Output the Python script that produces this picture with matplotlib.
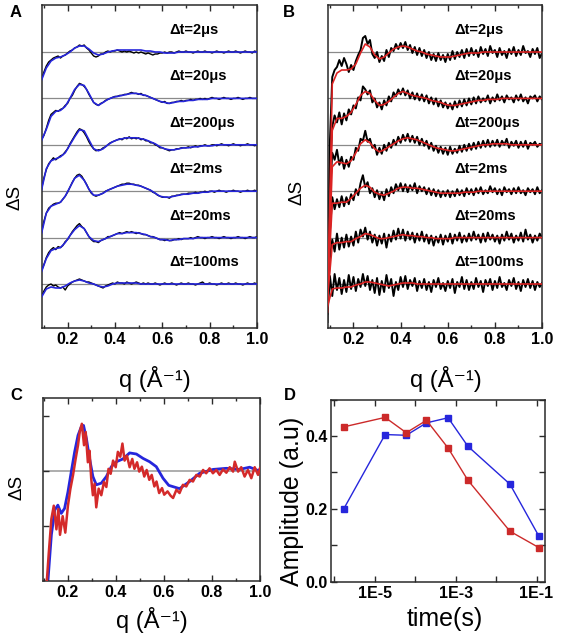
import numpy as np
import matplotlib
matplotlib.use("Agg")
import matplotlib.pyplot as plt
from matplotlib.ticker import MultipleLocator, LogLocator, NullFormatter

plt.rcParams['font.family'] = ['Liberation Sans', 'DejaVu Sans']

# ---------------- data (arbitrary dS units) ----------------
delays = ["Δt=2μs", "Δt=20μs", "Δt=200μs", "Δt=2ms", "Δt=20ms", "Δt=100ms"]

q_data = np.round(np.arange(0.09, 1.0001, 0.01), 2)   # measured curves
q_fit = np.round(np.arange(0.09, 1.0101, 0.02), 2)    # fitted curves

# panel A: measured (black) and fit (blue)
a_data_2us = [-27,
    -20, -14, -10, -8, -6, -5, -4, -6, -4, -3,
    -1, 1, 2, 4, 5, 7, 6, 7, 4, 2,
    -1, -4, -5, -4, -2, -2, 0, 1, 0, 1,
    1, 2, 1, 0, 1, 0, 1, 0, -1, 0,
    -1, 0, -1, -2, -1, -2, -3, -2, -2, -1,
    -1, 0, -1, 0, 0, -1, 0, 1, 0, 0,
    1, 0, 0, -1, 0, 1, 0, 0, 1, 0,
    0, -1, 0, 1, 0, 0, -1, 0, 1, 0,
    0, 1, 0, -1, 0, 1, 0, 0, -1, 1,
    0]
a_data_20us = [-41,
    -37, -30, -22, -16, -14, -12, -13, -11, -10, -7,
    -5, 0, 3, 8, 12, 15, 14, 12, 9, 4,
    0, -4, -6, -7, -5, -4, -2, -1, 0, 1,
    2, 2, 3, 3, 4, 4, 5, 6, 5, 5,
    4, 5, 3, 3, 2, 1, 0, -1, -2, -3,
    -4, -3, -5, -5, -4, -4, -3, -3, -2, -3,
    -2, -2, -1, -2, -1, -1, 0, -1, 0, -1,
    0, 1, 0, 0, -1, 0, 1, 0, 0, -1,
    0, 0, 1, 0, -1, 0, 0, 1, 0, 0,
    0]
a_data_200us = [-44,
    -33, -25, -19, -16, -13, -15, -13, -11, -10, -7,
    -4, 1, 5, 9, 13, 16, 15, 12, 8, 3,
    -1, -4, -6, -5, -5, -3, -2, 0, 2, 3,
    4, 5, 6, 5, 7, 6, 8, 6, 7, 6,
    7, 5, 6, 4, 4, 2, 2, 0, -1, -3,
    -3, -4, -5, -6, -5, -5, -4, -4, -3, -3,
    -3, -2, -3, -2, -1, -2, -1, -1, 0, -1,
    -1, 0, 0, -1, 0, 1, 0, 0, -1, 0,
    1, 0, 0, -1, 0, 0, 1, 0, 0, -1,
    0]
a_data_2ms = [-41,
    -30, -22, -17, -15, -13, -12, -12, -11, -8, -5,
    -1, 4, 9, 13, 16, 17, 15, 11, 7, 2,
    -2, -4, -5, -4, -3, -2, 0, 1, 2, 3,
    4, 5, 6, 7, 7, 8, 8, 7, 7, 6,
    6, 5, 4, 3, 2, 1, -1, -2, -4, -5,
    -6, -6, -6, -7, -5, -5, -4, -4, -3, -3,
    -3, -2, -2, -2, -1, -2, -1, -1, 0, -1,
    0, 0, -1, 0, 1, 0, 0, -1, 0, 0,
    1, 0, 0, -1, 0, 0, 1, 0, 0, 1,
    0]
a_data_20ms = [-33,
    -27, -20, -15, -12, -10, -12, -9, -10, -8, -4,
    -2, 2, 6, 9, 12, 14, 11, 9, 5, 1,
    -2, -4, -4, -5, -3, -2, -1, 1, 1, 2,
    3, 4, 5, 4, 5, 6, 5, 6, 5, 4,
    5, 4, 3, 3, 2, 1, 1, 0, -1, -2,
    -2, -3, -2, -3, -3, -2, -2, -1, -2, -1,
    -1, -1, 0, -1, 0, 1, 0, 0, -1, 0,
    0, 1, 0, 0, -1, 0, 1, 0, 0, -1,
    0, 0, 1, 0, 0, -1, 0, 1, 0, 0,
    1]
a_data_100ms = [-12,
    -7, -3, -1, 0, -2, -1, -3, -4, -3, -6,
    -2, 0, 2, 3, 4, 5, 4, 3, 2, 2,
    1, 0, -1, -2, -3, -4, -2, -1, 0, 1,
    0, 2, 1, 1, 0, 2, 1, 0, 1, 2,
    1, 0, 1, 0, 1, 0, 0, 1, 0, -1,
    0, 1, 0, 0, 1, 0, -1, 0, 1, 0,
    0, 1, 0, 0, -1, 0, 1, 2, 0, 0,
    1, 0, 0, -1, 0, 1, 0, 0, 1, 0,
    0, 1, 0, 0, -1, 0, 1, 0, 0, 1,
    0]

a_fit_2us = [-28, -16, -9, -6, -5, -3, 0, 4, 6, 6, 3, -1, -3, -2, 0, 1, 2, 2, 2, 2,
             2, 2, 1, 1, 0, 0, -1, -1, -1, 0, 0, 0, 0, 0, 0, 0, 0, 0, 0, 0,
             0, 0, 0, 0, 0, 0, 0]
a_fit_20us = [-42, -31, -18, -13, -12, -8, 0, 9, 14, 13, 5, -4, -7, -4, -1, 1, 2, 3, 4, 5,
              5, 4, 3, 1, -1, -3, -4, -5, -4, -3, -3, -2, -2, -1, -1, -1, 0, 0, 0, 0,
              0, 0, 0, 0, 0, 0, 0]
a_fit_200us = [-45, -24, -16, -14, -12, -8, 0, 8, 15, 14, 5, -4, -6, -4, 0, 3, 5, 6, 7, 7,
               7, 6, 5, 3, 1, -2, -4, -5, -5, -4, -3, -3, -2, -2, -1, -1, -1, 0, 0, 0,
               0, 0, 0, 0, 0, 0, 0]
a_fit_2ms = [-42, -22, -15, -13, -11, -5, 4, 13, 16, 11, 2, -4, -4, -2, 1, 3, 5, 6, 7, 7,
             6, 5, 3, 1, -2, -5, -6, -6, -5, -4, -3, -3, -2, -2, -1, -1, 0, 0, 0, 0,
             0, 0, 0, 0, 0, 0, 0]
a_fit_20ms = [-34, -21, -13, -11, -10, -5, 2, 8, 12, 9, 1, -3, -4, -2, 0, 2, 4, 4, 5, 5,
              5, 4, 3, 1, 0, -2, -2, -3, -2, -2, -1, -1, -1, 0, 0, 0, 0, 0, 0, 0,
              0, 0, 0, 0, 0, 0, 0]
a_fit_100ms = [-13, -5, -3, -4, -4, -2, 1, 3, 4, 3, 1, 0, -2, -3, -2, 0, 1, 1, 1, 1,
               1, 0, 0, 0, 0, 0, 0, 0, 0, 0, 0, 0, 0, 0, 0, 0, 0, 0, 0, 0,
               0, 0, 0, 0, 0, 0, 0]

# panel B: measured (black) and fit (red)
b_data_2us = [-270,
    -90, -25, -18, -15, -8, -14, -6, -12, -20, -13,
    -18, -9, -3, 2, 14, 16, 8, 12, -2, -6,
    0, -10, -4, -9, 2, -5, 4, 1, 8, 3,
    9, 4, 10, 2, 7, -1, 5, -3, 4, -4,
    2, -6, 0, -8, -2, -9, -1, -8, -3, -10,
    -2, -8, 1, -7, 0, -5, 2, -6, 3, -4,
    4, -3, 2, -5, 5, -2, 3, -4, 6, -1,
    2, -5, 4, -3, 1, -6, 3, -2, 5, -4,
    2, -3, 6, -1, 1, -5, 3, -2, 4, -6,
    -1]
b_data_20us = [-210,
    -70, -28, -17, -24, -14, -26, -15, -22, -11, -16,
    -7, -10, 1, -2, 12, 9, 4, 8, -4, 0,
    -9, -4, -11, -2, -7, 2, -3, 6, 2, 9,
    4, 10, 3, 8, 0, 6, -1, 5, -2, 4,
    -3, 3, -5, 1, -6, 0, -8, -2, -9, -4,
    -10, -5, -11, -3, -9, -2, -8, -1, -7, 0,
    -6, 1, -5, 2, -4, 0, -3, 3, -5, 1,
    -3, 4, -2, 2, -4, 3, -1, 1, -4, 3,
    -2, 4, -3, 1, -5, 2, 0, 3, -3, 2,
    -1]
b_data_200us = [-160,
    -50, -8, -15, -5, -20, -12, -24, -15, -22, -12,
    -15, -3, -6, 6, 4, 14, 3, 6, -3, 0,
    -10, -3, -9, 0, -6, 2, -3, 5, 0, 8,
    2, 10, 4, 11, 3, 9, 2, 8, 0, 6,
    -1, 4, -4, 2, -6, -1, -8, -2, -9, -3,
    -10, -2, -9, -4, -8, -1, -7, 0, -6, 1,
    -5, 2, -4, 3, -3, 4, -2, 5, -2, 4,
    -1, 5, -2, 4, 0, 6, -3, 3, -1, 4,
    -3, 3, -2, 4, -4, 2, 0, 3, -2, 1,
    0]
b_data_2ms = [-110,
    -40, -6, -18, -8, -16, -5, -15, -6, -13, -3,
    -9, 2, -4, 8, 16, 4, 9, -2, 3, -6,
    1, -8, -1, -9, 2, -5, 4, -2, 7, 1,
    8, 0, 7, -1, 6, 1, 8, -2, 5, 0,
    4, -3, 3, -4, 2, -5, 1, -6, 0, -5,
    1, -6, 0, -5, 2, -4, 1, -5, 3, -3,
    2, -4, 3, -2, 4, -3, 1, -2, 5, -1,
    3, -3, 2, -4, 4, -1, 2, -3, 3, -2,
    4, -2, 1, -4, 3, -1, 2, -3, 4, -2,
    1]
b_data_20ms = [-70,
    -20, -2, -14, 4, -12, 0, -10, 3, -9, 1,
    -8, 6, -5, 8, 1, 10, -2, 6, -5, 3,
    -8, 2, -6, 4, -10, 3, -4, 7, -2, 9,
    -1, 8, -3, 6, -2, 5, -5, 4, -3, 6,
    -4, 3, -6, 2, -8, 1, -5, 3, -7, 2,
    -4, 4, -6, 3, -3, 5, -5, 2, -4, 4,
    -3, 6, -2, 3, -5, 4, -4, 5, -2, 3,
    -4, 2, -6, 3, -3, 6, -2, 4, -5, 2,
    -3, 5, -4, 8, -2, 3, -5, 2, -3, 4,
    0]
b_data_100ms = [-30,
    8, -12, 10, -6, 6, -10, 4, -8, 9, -5,
    7, -7, 5, -3, 10, -2, 8, -6, 4, -9,
    6, -11, 3, -8, 9, -4, 5, -12, 2, -6,
    7, -3, 8, -5, 4, -2, 6, -7, 3, -4,
    5, -6, 2, -8, 4, -3, 6, -5, 1, -7,
    3, -4, 5, -9, 2, -3, 7, -5, 4, -6,
    2, -5, 6, -3, 3, -8, 4, -2, 5, -6,
    3, -4, 7, -3, 1, -6, 4, -2, 6, -5,
    2, -7, 4, -3, 5, -4, 3, -6, 2, -3,
    1]

b_fit_2us = [-260, -32, -21, -18, -18, -17, -12, -1, 8, 5, -3, -7, -5, -1, 3, 5, 6, 5, 3, 1,
             0, -2, -3, -4, -5, -5, -5, -4, -3, -2, -1, -1, -1, 0, 0, 0, 0, 0, 0, 0,
             0, 0, 0, 0, 0, 0, 0]
b_fit_20us = [-200, -32, -20, -20, -18, -14, -6, 3, 7, 5, -2, -7, -6, -3, 1, 5, 7, 5, 3, 2,
              1, 0, -2, -3, -4, -6, -7, -7, -6, -5, -4, -3, -2, -2, -1, -1, -1, 0, 0, 0,
              0, 0, 0, 0, 0, 0, 0]
b_fit_200us = [-150, -22, -17, -18, -19, -16, -8, 1, 5, 2, -4, -7, -5, -2, 1, 4, 6, 7, 6, 5,
               3, 1, -1, -3, -4, -5, -6, -6, -5, -4, -3, -2, -1, 0, 0, 1, 1, 1, 1, 0,
               0, 0, 0, 0, 0, 0, 0]
b_fit_2ms = [-100, -12, -12, -11, -11, -7, -2, 3, 6, 4, -1, -3, -4, -2, 0, 3, 4, 4, 3, 3,
             2, 1, 0, -1, -2, -2, -2, -2, -2, -1, -1, -1, 0, 0, 0, 0, 0, 0, 0, 0,
             0, 0, 0, 0, 0, 0, 0]
b_fit_20ms = [-60, -7, -5, -5, -4, -4, -1, 1, 4, 3, 1, -1, -1, 0, 1, 2, 3, 2, 2, 1,
              1, 0, 0, -1, -1, -1, -1, 0, 0, 0, 0, 0, 0, 0, 0, 0, 0, 0, 0, 0,
              0, 0, 0, 0, 0, 0, 0]
b_fit_100ms = [-22, -5, -4, -4, -3, -3, -1, 0, 2, 2, 1, 0, -1, -2, -1, 0, 1, 1, 1, 0,
               0, 0, 0, 0, 0, 0, 0, 0, 0, 0, 0, 0, 0, 0, 0, 0, 0, 0, 0, 0,
               0, 0, 0, 0, 0, 0, 0]

a_data = [a_data_2us, a_data_20us, a_data_200us, a_data_2ms, a_data_20ms, a_data_100ms]
a_fit = [a_fit_2us, a_fit_20us, a_fit_200us, a_fit_2ms, a_fit_20ms, a_fit_100ms]
b_data = [b_data_2us, b_data_20us, b_data_200us, b_data_2ms, b_data_20ms, b_data_100ms]
b_fit = [b_fit_2us, b_fit_20us, b_fit_200us, b_fit_2ms, b_fit_20ms, b_fit_100ms]

# panel C: two normalised difference curves
c_blue_q = [0.117, 0.131, 0.145, 0.158, 0.172, 0.186, 0.200, 0.214, 0.228, 0.242,
            0.256, 0.265, 0.277, 0.290, 0.304, 0.318, 0.339, 0.360, 0.381, 0.402,
            0.429, 0.457, 0.485, 0.513, 0.540, 0.568, 0.596, 0.620, 0.665, 0.707,
            0.749, 0.805, 0.860, 0.915, 0.957, 0.992, 1.000]
c_blue = [-1.98, -1.16, -0.71, -0.62, -0.77, -0.68, -0.38, -0.01, 0.35, 0.65,
          0.81, 0.83, 0.59, 0.23, -0.10, -0.25, -0.22, -0.10, 0.08, 0.17,
          0.22, 0.33, 0.31, 0.23, 0.17, 0.08, -0.13, -0.26, -0.32, -0.19,
          -0.04, 0.03, 0.05, 0.03, 0.07, 0.01, 0.03]
c_red_q = [0.112, 0.120, 0.131, 0.141, 0.152, 0.160, 0.167, 0.178, 0.189, 0.200,
           0.210, 0.221, 0.232, 0.242, 0.249, 0.258, 0.267, 0.274, 0.283, 0.290,
           0.297, 0.304, 0.311, 0.318, 0.328, 0.339, 0.350, 0.360, 0.369, 0.378,
           0.388, 0.399, 0.408, 0.418, 0.427, 0.436, 0.446, 0.457, 0.468, 0.477,
           0.488, 0.497, 0.508, 0.518, 0.528, 0.539, 0.549, 0.560, 0.569, 0.580,
           0.592, 0.601, 0.615, 0.628, 0.638, 0.652, 0.665, 0.679, 0.693, 0.707,
           0.721, 0.735, 0.749, 0.763, 0.776, 0.790, 0.804, 0.818, 0.832, 0.846,
           0.860, 0.874, 0.888, 0.895, 0.909, 0.922, 0.936, 0.950, 0.964, 0.978,
           0.992, 1.000]
c_red = [-2.00, -1.50, -0.87, -0.63, -1.06, -0.69, -1.16, -0.82, -1.12, -0.63,
         -0.33, -0.08, 0.22, 0.47, 0.71, 0.86, 0.47, 0.71, 0.16, 0.37,
         -0.14, -0.44, -0.23, -0.66, -0.32, -0.44, -0.20, -0.29, 0.04, -0.05,
         0.19, 0.07, 0.35, 0.26, 0.50, 0.19, 0.28, 0.07, 0.22, 0.04,
         0.16, -0.01, 0.08, -0.10, 0.02, -0.16, -0.07, -0.28, -0.19, -0.40,
         -0.31, -0.43, -0.37, -0.45, -0.49, -0.34, -0.40, -0.25, -0.28, -0.16,
         -0.19, -0.07, -0.10, 0.02, -0.04, 0.05, -0.04, 0.02, -0.07, 0.03,
         -0.03, 0.07, -0.01, 0.17, -0.01, 0.07, -0.10, 0.02, -0.13, 0.07,
         -0.07, 0.05]

# panel D: amplitudes vs time
d_time = [1.7e-6, 1.8e-5, 6e-5, 1.9e-4, 6.5e-4, 2e-3, 2.2e-2, 1.15e-1]
d_blue = [0.200, 0.404, 0.402, 0.436, 0.450, 0.372, 0.268, 0.125]
d_red = [0.425, 0.451, 0.409, 0.443, 0.367, 0.279, 0.139, 0.094]

# ---------------- figure ----------------
blue = '#2626dc'
red = '#dc2323'
spacing = 46.4
tick_size = 11.5


def frame(ax):
    for s in ax.spines.values():
        s.set_linewidth(1.1)
        s.set_color('#2a2a2a')
    ax.tick_params(which='both', direction='in', top=True, width=1.0,
                   color='#2a2a2a', labelsize=tick_size, pad=3)
    ax.tick_params(which='major', length=4.5)
    ax.tick_params(which='minor', length=2.5)


def bold_ticks(ax):
    for lab in ax.get_xticklabels() + ax.get_yticklabels():
        lab.set_fontweight('bold')


fig = plt.figure(figsize=(5.61, 6.42), dpi=100)

axA = fig.add_axes([0.0749, 0.4891, 0.3832, 0.5031])
axB = fig.add_axes([0.5847, 0.4891, 0.3815, 0.5031])

for ax, data, fits, fit_col, data_lw in [(axA, a_data, a_fit, blue, 1.0),
                                          (axB, b_data, b_fit, red, 1.4)]:
    for i in range(6):
        off = (5 - i) * spacing
        ax.axhline(off, color='#8a8a8a', lw=0.9, zorder=1)
        ax.plot(q_data, np.array(data[i]) + off, color='black', lw=data_lw, zorder=2)
        ax.plot(q_fit, np.array(fits[i]) + off, color=fit_col, lw=1.2, zorder=3)
        ax.text(0.63, off + 22, delays[i], fontsize=10.5, fontweight='bold',
                ha='left', va='center')
    ax.set_xlim(0.092, 1.0)
    ax.set_ylim(-44, 279)
    ax.xaxis.set_major_locator(MultipleLocator(0.2))
    ax.xaxis.set_minor_locator(MultipleLocator(0.1))
    ax.set_yticks([])
    frame(ax)
    bold_ticks(ax)

axC = fig.add_axes([0.0766, 0.0950, 0.3868, 0.2843])
axC.axhline(0, color='#a0a0a0', lw=1.2, zorder=1)
axC.plot(c_blue_q, c_blue, color=blue, lw=2.0, zorder=2)
axC.plot(c_red_q, c_red, color='#d42a2a', lw=1.8, zorder=3)
axC.set_xlim(0.096, 1.0)
axC.set_ylim(-2.0, 1.32)
axC.xaxis.set_major_locator(MultipleLocator(0.2))
axC.xaxis.set_minor_locator(MultipleLocator(0.1))
axC.set_yticks([-1, 0, 1])
axC.set_yticklabels([])
frame(axC)
bold_ticks(axC)

axD = fig.add_axes([0.5909, 0.0935, 0.3806, 0.2842])
axD.plot(d_time, d_blue, color=blue, lw=1.0, marker='s', ms=5, mec=blue, mfc=blue)
axD.plot(d_time, d_red, color='#cc2a2a', lw=1.0, marker='s', ms=5, mec='#cc2a2a', mfc='#cc2a2a')
axD.set_xscale('log')
axD.set_xlim(8.5e-7, 0.162)
axD.set_ylim(0, 0.5)
axD.set_xticks([1e-6, 1e-5, 1e-4, 1e-3, 1e-2, 1e-1],
               labels=['', '1E-5', '', '1E-3', '', '1E-1'])
axD.xaxis.set_minor_locator(LogLocator(base=10, subs=np.arange(2, 10)))
axD.xaxis.set_minor_formatter(NullFormatter())
axD.set_yticks([0.0, 0.2, 0.4], labels=['0.0', '0.2', '0.4'])
axD.yaxis.set_minor_locator(MultipleLocator(0.1))
frame(axD)
axD.tick_params(which='both', right=True)
axD.tick_params(axis='y', which='minor', length=4.5)
bold_ticks(axD)

# panel letters and axis titles
for x, y, s in [(0.0285, 0.9805, 'A'), (0.515, 0.9805, 'B'),
                (0.0294, 0.3832, 'C'), (0.517, 0.3832, 'D')]:
    fig.text(x, y, s, fontsize=12, fontweight='bold', ha='center', va='center')

for x, y in [(0.0267, 0.693), (0.529, 0.701), (0.0303, 0.2414)]:
    fig.text(x, y, 'ΔS', fontsize=13.5, rotation=90, ha='center', va='center')

for x, y in [(0.2763, 0.4097), (0.795, 0.4097), (0.271, 0.0343)]:
    fig.text(x, y, 'q (Å⁻¹)', fontsize=17, ha='center', va='center')

fig.text(0.5205, 0.2196, 'Amplitude (a.u)', fontsize=18, rotation=90, ha='center', va='center')
fig.text(0.793, 0.0358, 'time(s)', fontsize=18, ha='center', va='center')

fig.savefig('out.png', dpi=100)
